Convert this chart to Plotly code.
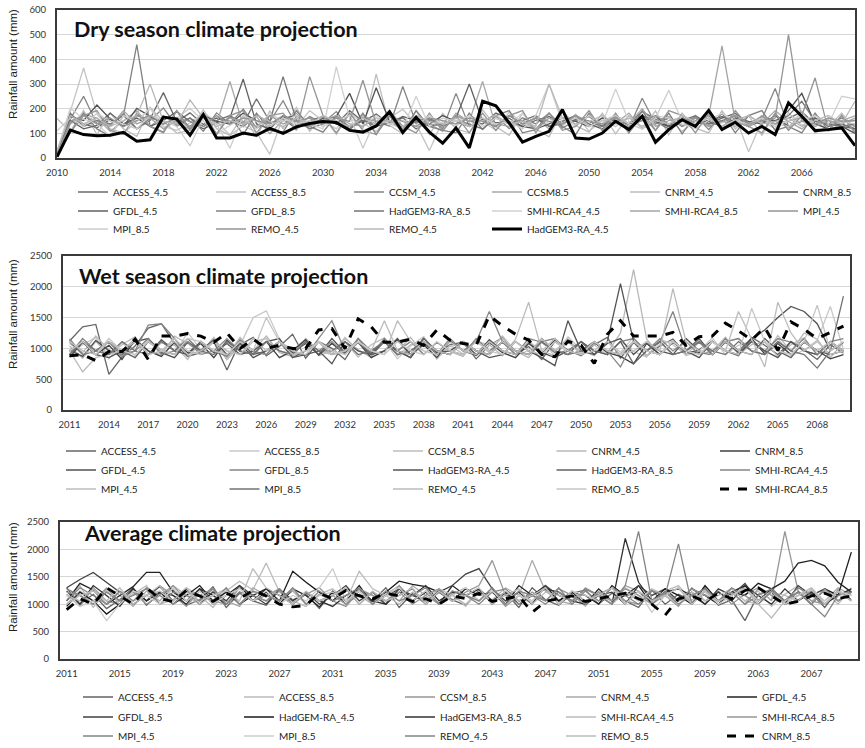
import plotly.graph_objects as go

W, H = 865, 748

# ---------------- DATA ----------------
dry_years = list(range(2010, 2071))
wet_years = list(range(2011, 2071))
avg_years = list(range(2011, 2071))

dry_tick_years = list(range(2010, 2071, 4))
wet_tick_years = list(range(2011, 2069, 3))
avg_tick_years = list(range(2011, 2068, 4))

# Dry season (mm), 2010-2070
dry_access_45 = [15, 175, 138, 122, 156, 128, 172, 158, 265, 147,
                 183, 136, 162, 151, 127, 176, 141, 158, 119, 152,
                 168, 137, 192, 148, 178, 139, 163, 118, 152, 131,
                 172, 149, 138, 182, 161, 127, 153, 168, 141, 158,
                 149, 129, 173, 138, 188, 157, 128, 152, 171, 139,
                 162, 181, 139, 168, 152, 161, 187, 138, 153, 128, 118]
dry_access_85 = [22, 188, 365, 178, 118, 102, 148, 203, 128, 112,
                 143, 181, 149, 92, 131, 104, 15, 168, 127, 192,
                 151, 118, 183, 142, 108, 163, 197, 138, 30, 152,
                 128, 172, 149, 112, 187, 141, 118, 163, 129, 178,
                 108, 153, 127, 171, 122, 138, 162, 108, 151, 131,
                 142, 168, 25, 149, 118, 183, 132, 158, 109, 142, 152]
dry_ccsm_45 = [25, 158, 250, 138, 132, 181, 118, 152, 203, 128,
               162, 108, 183, 139, 198, 121, 148, 232, 131, 168,
               142, 188, 117, 163, 148, 129, 290, 141, 158, 118,
               262, 128, 152, 171, 119, 163, 138, 182, 121, 152,
               168, 129, 148, 122, 242, 138, 162, 128, 151, 172,
               118, 152, 141, 158, 282, 128, 148, 173, 139, 162, 128]
dry_ccsm_85 = [12, 142, 178, 162, 108, 151, 192, 128, 171, 139,
               118, 162, 138, 310, 132, 168, 98, 152, 181, 128,
               162, 141, 118, 172, 148, 183, 128, 162, 139, 108,
               182, 148, 310, 128, 171, 138, 163, 118, 152, 171,
               128, 162, 141, 182, 118, 152, 168, 132, 161, 138,
               151, 128, 172, 138, 192, 148, 118, 162, 138, 152, 171]
dry_cnrm_45 = [160, 108, 192, 95, 182, 118, 88, 205, 148, 101,
               112, 195, 119, 92, 172, 85, 191, 118, 205, 108,
               171, 96, 182, 118, 340, 132, 98, 192, 95, 181,
               118, 102, 195, 128, 92, 182, 118, 86, 192, 131,
               105, 182, 98, 172, 118, 191, 94, 182, 121, 102,
               192, 118, 172, 92, 182, 118, 191, 102, 128, 182, 118]
dry_cnrm_85 = [20, 168, 152, 215, 158, 128, 201, 168, 138, 162,
               128, 172, 148, 138, 182, 151, 128, 162, 171, 138,
               152, 168, 262, 138, 285, 148, 128, 162, 138, 172,
               148, 128, 158, 142, 148, 128, 118, 138, 162, 148,
               128, 162, 151, 138, 172, 148, 128, 158, 138, 152,
               168, 148, 128, 162, 148, 192, 262, 138, 118, 128, 100]
dry_gfdl_45 = [10, 152, 118, 132, 182, 138, 162, 128, 152, 188,
               148, 118, 142, 162, 320, 138, 118, 172, 148, 128,
               162, 138, 118, 152, 128, 142, 168, 152, 128, 138,
               162, 300, 148, 128, 172, 138, 162, 128, 148, 172,
               138, 118, 162, 138, 152, 168, 128, 162, 138, 148,
               128, 162, 148, 138, 172, 128, 152, 162, 128, 138, 118]
dry_gfdl_85 = [15, 102, 182, 118, 88, 172, 460, 128, 105, 192,
               118, 182, 98, 172, 95, 182, 112, 105, 192, 128,
               105, 172, 112, 182, 95, 172, 105, 192, 128, 112,
               102, 182, 115, 172, 192, 102, 115, 182, 128, 95,
               182, 112, 172, 102, 192, 112, 182, 98, 172, 115,
               182, 102, 172, 192, 112, 128, 102, 182, 112, 172, 105]
dry_hadgem_85 = [20, 182, 128, 152, 138, 172, 118, 162, 148, 138,
                 162, 128, 152, 172, 138, 240, 148, 330, 152, 118,
                 138, 162, 128, 152, 138, 172, 118, 148, 162, 128,
                 152, 138, 118, 162, 138, 152, 172, 128, 138, 162,
                 148, 128, 172, 138, 162, 148, 118, 152, 162, 138,
                 152, 172, 128, 152, 138, 172, 230, 148, 138, 128, 138]
dry_smhi_45 = [25, 202, 158, 138, 88, 172, 148, 202, 118, 162,
               202, 148, 98, 132, 162, 118, 182, 148, 172, 138,
               118, 370, 162, 128, 172, 138, 118, 250, 128, 162,
               148, 172, 128, 162, 138, 182, 118, 148, 162, 128,
               172, 138, 280, 148, 128, 172, 162, 138, 118, 152,
               182, 148, 128, 162, 138, 128, 152, 172, 138, 250, 240]
dry_smhi_85 = [10, 138, 172, 148, 128, 192, 138, 162, 118, 152,
               128, 172, 138, 162, 148, 128, 172, 138, 162, 128,
               152, 172, 138, 128, 162, 148, 118, 162, 138, 128,
               172, 148, 162, 138, 128, 152, 118, 162, 138, 172,
               128, 152, 162, 138, 200, 128, 152, 162, 138, 172,
               455, 148, 128, 172, 138, 152, 162, 128, 152, 138, 162]
dry_mpi_45 = [20, 105, 172, 192, 112, 95, 182, 128, 102, 192,
              112, 182, 95, 172, 192, 102, 172, 182, 112, 330,
              172, 102, 182, 112, 95, 192, 128, 102, 182, 112,
              172, 102, 182, 112, 172, 192, 102, 182, 112, 128,
              192, 112, 182, 102, 172, 112, 192, 172, 102, 182,
              112, 192, 128, 102, 182, 112, 172, 325, 112, 172, 102]
dry_mpi_85 = [110, 162, 128, 182, 148, 138, 118, 172, 152, 128,
              50, 162, 138, 40, 172, 148, 128, 162, 138, 152,
              128, 152, 172, 40, 162, 138, 152, 128, 172, 138,
              152, 128, 162, 138, 148, 118, 172, 300, 138, 162,
              128, 152, 172, 138, 118, 162, 275, 148, 138, 162,
              128, 152, 138, 162, 128, 152, 172, 138, 162, 148, 138]
dry_remo_45 = [15, 148, 172, 138, 162, 128, 152, 172, 138, 162,
               148, 128, 172, 138, 162, 152, 138, 172, 148, 162,
               138, 162, 148, 315, 138, 172, 148, 128, 162, 152,
               138, 162, 148, 128, 172, 138, 162, 148, 138, 172,
               148, 138, 162, 128, 152, 172, 138, 148, 162, 128,
               148, 172, 138, 152, 162, 500, 148, 138, 162, 148, 152]
dry_remo_45b = [30, 172, 138, 162, 128, 152, 172, 300, 148, 138,
                235, 162, 128, 152, 138, 172, 148, 128, 162, 138,
                172, 148, 128, 162, 138, 152, 128, 172, 148, 138,
                162, 128, 152, 172, 138, 148, 128, 300, 162, 138,
                148, 172, 138, 162, 128, 152, 138, 172, 148, 162,
                128, 152, 172, 138, 148, 162, 128, 152, 172, 138, 230]
dry_hadgem_45 = [5, 113, 95, 90, 92, 104, 68, 74, 166, 158,
                 92, 176, 81, 81, 101, 92, 120, 100, 126, 140,
                 148, 144, 112, 105, 130, 188, 103, 165, 105, 60,
                 122, 41, 230, 212, 142, 64, 88, 108, 196, 81,
                 77, 101, 149, 115, 169, 64, 115, 155, 128, 193,
                 115, 145, 101, 128, 95, 223, 169, 111, 115, 122, 50]

# Wet season (mm), 2011-2070
wet_access_45 = [1120, 1350, 1390, 580, 860, 1040, 1330, 1400, 1080, 870,
                 930, 1120, 820, 1060, 1180, 880, 1030, 1230, 840, 1110,
                 1000, 820, 1160, 930, 1120, 960, 850, 1180, 900, 1060,
                 1100, 830, 1050, 1170, 900, 1030, 820, 1110, 970, 880,
                 1060, 1180, 840, 1100, 880, 1040, 1150, 910, 980, 1120,
                 960, 880, 1180, 1050, 900, 1110, 980, 820, 1060, 920]
wet_access_85 = [900, 1060, 1180, 830, 1100, 880, 1150, 980, 900, 1260,
                 980, 1120, 820, 1050, 1500, 1610, 1150, 880, 960, 1100,
                 910, 1180, 960, 870, 1120, 830, 1040, 1190, 910, 1030,
                 1090, 880, 1050, 1160, 900, 960, 1130, 870, 1190, 970,
                 880, 1110, 940, 1180, 880, 1070, 1120, 880, 960, 1170,
                 900, 1050, 1120, 930, 1160, 880, 970, 1130, 1680, 980]
wet_ccsm_85 = [1040, 840, 1110, 900, 1060, 1190, 890, 1090, 1050, 820,
               1120, 960, 880, 1180, 940, 900, 1120, 970, 1150, 880,
               960, 1110, 860, 1060, 1170, 880, 1060, 1120, 830, 1050,
               910, 1110, 1060, 880, 1150, 1750, 960, 880, 1120, 940,
               1060, 890, 1120, 950, 860, 1150, 1060, 900, 1100, 960,
               1180, 900, 1060, 1100, 870, 1060, 1170, 890, 1110, 930]
wet_cnrm_45 = [1080, 930, 1200, 980, 860, 1140, 960, 900, 1200, 1080,
               930, 1180, 850, 1100, 960, 1200, 930, 870, 1160, 960,
               900, 1160, 980, 850, 1140, 950, 1180, 900, 1100, 950,
               870, 1130, 930, 1200, 960, 850, 1100, 960, 1160, 900,
               1100, 930, 1250, 2280, 1150, 900, 1100, 950, 1130, 900,
               1100, 1160, 950, 900, 1210, 950, 1250, 1150, 850, 1100]
wet_cnrm_85 = [860, 1100, 900, 1050, 820, 1150, 960, 870, 1100, 930,
               1080, 850, 1130, 950, 910, 1110, 850, 960, 1140, 890,
               1080, 910, 1100, 850, 960, 1140, 900, 1060, 850, 1120,
               960, 890, 1100, 930, 850, 1080, 910, 1140, 960, 900,
               1100, 930, 870, 750, 1080, 900, 1100, 950, 930, 900,
               1110, 930, 1160, 910, 1080, 900, 1100, 960, 830, 900]
wet_gfdl_45 = [970, 870, 1130, 960, 900, 1110, 1160, 930, 850, 1100,
               960, 1140, 900, 1080, 850, 960, 1110, 930, 1080, 900,
               1160, 930, 1100, 900, 960, 1160, 900, 1080, 930, 960,
               1100, 900, 1140, 960, 900, 1100, 930, 850, 960, 1110,
               900, 1080, 1160, 900, 1100, 960, 900, 1160, 960, 900,
               1100, 960, 1160, 1300, 1500, 1680, 1600, 1400, 960, 1100]
wet_gfdl_85 = [900, 1160, 960, 1100, 870, 960, 1380, 1400, 1160, 900,
               1100, 960, 870, 1140, 960, 900, 1110, 960, 880, 1160,
               1450, 960, 1100, 900, 1160, 960, 1110, 900, 1100, 960,
               900, 1160, 960, 1100, 900, 1160, 1100, 930, 960, 1110,
               960, 900, 1110, 1160, 960, 1100, 1600, 960, 1100, 900,
               1160, 960, 1110, 960, 1160, 1100, 960, 900, 1110, 1160]
wet_hadgem_45 = [960, 1110, 900, 850, 960, 1110, 900, 1140, 960, 900,
                 1110, 930, 1080, 900, 960, 1110, 1160, 850, 900, 960,
                 750, 1110, 960, 900, 1110, 960, 850, 1110, 960, 900,
                 1110, 960, 850, 900, 1110, 960, 850, 720, 1450, 960,
                 900, 1110, 2050, 1110, 960, 900, 1110, 960, 850, 1110,
                 960, 900, 1110, 960, 850, 1110, 960, 900, 1110, 960]
wet_hadgem_85 = [1110, 900, 960, 1110, 960, 850, 1110, 960, 900, 1110,
                 960, 1110, 650, 1110, 900, 960, 1110, 850, 960, 1110,
                 900, 960, 1110, 900, 1110, 960, 900, 1160, 960, 900,
                 1110, 960, 900, 1110, 960, 900, 1160, 960, 900, 1110,
                 960, 900, 1110, 750, 960, 1110, 900, 960, 1160, 900,
                 1110, 960, 900, 1160, 960, 850, 1110, 960, 900, 960]
wet_smhi_45 = [1160, 900, 960, 1110, 900, 960, 1160, 900, 960, 1110,
               900, 960, 1160, 960, 900, 1110, 960, 900, 1110, 960,
               1110, 900, 1160, 960, 1110, 900, 960, 1110, 900, 1160,
               960, 1110, 1600, 1110, 960, 900, 1110, 1160, 960, 900,
               1110, 960, 700, 1110, 960, 1160, 960, 1110, 900, 960,
               1110, 1160, 960, 900, 1110, 960, 1160, 900, 1110, 960]
wet_mpi_45 = [960, 620, 850, 900, 960, 1110, 900, 960, 1160, 960,
              900, 1110, 960, 900, 1110, 1160, 960, 900, 960, 1110,
              900, 960, 1110, 960, 900, 1450, 1110, 960, 900, 1110,
              960, 900, 1110, 960, 900, 1110, 960, 1160, 900, 960,
              1110, 960, 900, 1110, 960, 900, 1110, 960, 900, 1110,
              960, 1600, 1160, 700, 1750, 1250, 960, 1110, 900, 960]
wet_mpi_85 = [900, 1110, 960, 900, 1110, 960, 900, 1110, 960, 1160,
              960, 900, 1110, 960, 900, 1110, 960, 900, 1110, 960,
              960, 1110, 900, 960, 1110, 900, 960, 1110, 960, 900,
              1110, 960, 900, 1110, 960, 900, 1110, 960, 900, 960,
              1110, 960, 900, 1110, 960, 1110, 900, 960, 1110, 960,
              900, 1110, 960, 900, 1110, 960, 900, 680, 960, 1850]
wet_remo_45 = [1110, 960, 900, 1110, 960, 1160, 900, 960, 1110, 900,
               960, 1110, 960, 900, 1160, 960, 1110, 900, 960, 1110,
               900, 960, 1110, 960, 1450, 960, 900, 1110, 960, 900,
               1110, 960, 900, 1110, 960, 900, 1160, 960, 1110, 900,
               960, 1110, 900, 960, 1110, 960, 1970, 1110, 960, 900,
               1110, 960, 900, 1110, 960, 900, 1110, 960, 1110, 960]
wet_remo_85 = [960, 1110, 900, 1160, 960, 900, 1110, 960, 900, 1160,
               1110, 960, 900, 1110, 960, 1500, 1110, 960, 900, 1110,
               960, 900, 1110, 960, 900, 1110, 960, 900, 1110, 960,
               900, 1110, 960, 900, 1110, 960, 900, 1110, 960, 900,
               1110, 960, 900, 1110, 960, 900, 1110, 960, 900, 1110,
               960, 900, 1650, 1110, 960, 900, 1110, 1700, 960, 1110]
wet_smhi_85 = [880, 900, 800, 950, 950, 1150, 820, 1200, 1200, 1240,
               1200, 1100, 1250, 1000, 1150, 1000, 1050, 1000, 1000, 1300,
               1320, 1000, 1480, 1350, 1100, 1100, 1150, 1050, 1300, 1135,
               1080, 1050, 1530, 1365, 1230, 1135, 900, 865, 1115, 1050,
               755, 1230, 1450, 1200, 1200, 1200, 1260, 1050, 1190, 1200,
               1410, 1285, 1135, 1340, 970, 1430, 1310, 1160, 1260, 1360]

# Average (mm), 2011-2070
avg_access_45 = [1300, 1000, 1180, 920, 1080, 1300, 980, 1200, 1260, 980,
                 1080, 1320, 940, 1200, 1060, 980, 1260, 1080, 1180, 920,
                 1240, 1000, 1180, 1060, 1300, 940, 1200, 1000, 1260, 1080,
                 980, 1260, 1060, 1200, 940, 1300, 1080, 980, 1200, 1260,
                 1000, 1200, 1060, 940, 1260, 1000, 1180, 1060, 1300, 980,
                 1080, 700, 1180, 1260, 1000, 1080, 1200, 940, 1260, 1080]
avg_access_85 = [1060, 1340, 940, 1240, 1000, 1180, 1340, 1000, 1080, 1300,
                 1160, 940, 1240, 1420, 1260, 1750, 1220, 1060, 960, 1180,
                 1280, 1060, 1240, 1000, 1180, 1340, 1060, 1240, 1000, 1180,
                 960, 1240, 1080, 1300, 1160, 1000, 1340, 1060, 1180, 960,
                 1240, 1060, 1300, 1160, 1000, 1240, 1340, 1060, 1180, 1000,
                 1280, 1060, 1240, 960, 1180, 1340, 1060, 1240, 1000, 1300]
avg_ccsm_85 = [1180, 960, 1300, 1060, 1000, 1240, 1060, 1340, 1160, 960,
               1240, 1060, 1000, 1300, 1160, 1060, 1240, 1000, 1180, 1300,
               1060, 960, 1240, 1160, 1000, 1340, 1060, 1240, 1000, 1180,
               1300, 1060, 1240, 960, 1160, 1060, 1300, 1000, 1240, 1060,
               1180, 1300, 1060, 1000, 1240, 1160, 960, 1300, 1060, 1240,
               1000, 1180, 1300, 1060, 2330, 1240, 1060, 1000, 1180, 1240]
avg_cnrm_45 = [1000, 1240, 1060, 1300, 1160, 960, 1240, 1060, 1340, 1160,
               1000, 1240, 1060, 960, 1300, 1160, 1060, 1240, 1000, 1180,
               1060, 1300, 1160, 1000, 1240, 1060, 1340, 1160, 1000, 1240,
               1160, 1060, 1300, 1000, 1160, 1800, 1240, 1060, 1000, 1300,
               1160, 1060, 1340, 1240, 1000, 1160, 1300, 1060, 1240, 1000,
               1160, 1300, 1060, 1240, 1000, 1160, 1240, 1060, 1300, 1160]
avg_gfdl_45 = [1060, 1380, 1260, 1000, 1160, 1320, 1580, 1580, 1220, 1060,
               1280, 1000, 1160, 1340, 1060, 1220, 1000, 1280, 1160, 950,
               1220, 1060, 1340, 1000, 1160, 1280, 1060, 1220, 1000, 1340,
               1160, 1280, 1060, 1220, 1000, 1160, 1340, 1060, 1220, 1000,
               1280, 1060, 1160, 1340, 1000, 1220, 1060, 1280, 1160, 1000,
               1220, 1340, 1060, 1280, 1420, 1750, 1800, 1700, 1400, 1220]
avg_gfdl_85 = [1300, 1450, 1580, 1400, 1220, 1000, 1160, 1320, 1060, 1280,
               1000, 1220, 1060, 1340, 1160, 1000, 1280, 1060, 1220, 1000,
               1160, 1340, 1060, 1220, 1000, 1280, 1160, 1060, 1220, 1340,
               1550, 1650, 1280, 1060, 1220, 1000, 1340, 1160, 1060, 1280,
               1160, 1220, 1000, 1340, 1160, 1280, 1060, 1220, 1000, 1280,
               1160, 1380, 1060, 1220, 1000, 1340, 1160, 1280, 1060, 1220]
avg_hadgem_45 = [960, 1220, 1060, 820, 1000, 1280, 1060, 1220, 1000, 1160,
                 1340, 1060, 1220, 1000, 1160, 1280, 1060, 1600, 1400, 1220,
                 1060, 1280, 1160, 1060, 1220, 1420, 1360, 1320, 1220, 1060,
                 1280, 1160, 1220, 1000, 1340, 1160, 1280, 1060, 1220, 1160,
                 1000, 1340, 1160, 1220, 1060, 1280, 1160, 1000, 1340, 1060,
                 1220, 1160, 1380, 1280, 1060, 1220, 1000, 1280, 1160, 1950]
avg_hadgem3_85 = [1240, 1000, 1340, 1160, 960, 1280, 1060, 1220, 1160, 1000,
                  1280, 1160, 1000, 1220, 1060, 1280, 1160, 1000, 1220, 1060,
                  960, 1160, 1280, 1060, 1000, 1220, 1160, 1340, 1060, 1220,
                  1160, 1280, 1000, 1220, 1060, 1160, 1280, 1220, 1060, 1000,
                  1160, 1000, 2200, 1400, 1060, 1220, 1280, 1160, 1000, 1220,
                  1060, 1340, 1160, 1000, 1280, 1060, 1220, 1000, 1160, 1280]
avg_smhi_45 = [1160, 1060, 1280, 1000, 1220, 1060, 1160, 1340, 1000, 1220,
               1060, 1160, 1280, 1000, 1220, 1160, 1060, 1280, 1000, 1160,
               1220, 1060, 1600, 1280, 1160, 1000, 1220, 1060, 1280, 1160,
               1000, 1220, 1060, 1160, 1280, 1000, 1220, 1160, 1060, 1280,
               1160, 1000, 1220, 1060, 1280, 1160, 1000, 1220, 1060, 1160,
               1280, 1060, 1000, 1220, 1160, 1060, 1280, 1000, 1220, 1160]
avg_smhi_85 = [1220, 1160, 1000, 1280, 1060, 1220, 1000, 1160, 1340, 1060,
               1160, 1280, 1000, 1220, 1060, 1160, 1280, 1000, 1220, 1060,
               1160, 1000, 1280, 1160, 1060, 1220, 1000, 1160, 1280, 1060,
               1220, 1340, 1800, 1160, 1000, 1220, 1060, 1280, 1160, 1000,
               1220, 1060, 1280, 1160, 1000, 1220, 1060, 1280, 1160, 1060,
               1220, 1000, 1280, 1160, 1060, 1220, 1000, 1280, 1060, 1220]
avg_mpi_45 = [1280, 1160, 1000, 1220, 1060, 1160, 1280, 1000, 1220, 1160,
              1060, 1280, 1000, 1220, 1160, 1060, 1280, 1000, 1220, 1060,
              1160, 1280, 1000, 1220, 1060, 1160, 1280, 1000, 1220, 1060,
              1160, 1000, 1220, 1280, 1060, 1160, 1000, 1220, 1060, 1280,
              1160, 1000, 1340, 2330, 1060, 1220, 1000, 1160, 1280, 1060,
              1220, 1000, 1160, 1280, 1060, 1220, 1000, 770, 1160, 1220]
avg_mpi_85 = [1160, 960, 1060, 700, 1000, 1240, 1160, 1000, 1300, 1060,
              1240, 1000, 1160, 1280, 1060, 1240, 1000, 1160, 1060, 1300,
              1650, 1060, 1240, 1000, 1160, 1300, 1060, 1240, 1000, 1160,
              1300, 1060, 1240, 1000, 1160, 1060, 1300, 1000, 1240, 1160,
              1060, 1300, 1000, 1240, 850, 1160, 1300, 1060, 1240, 1000,
              1160, 1300, 1060, 1240, 1000, 1160, 1300, 1060, 1240, 1160]
avg_remo_45 = [1060, 1300, 1160, 1000, 1240, 1060, 1300, 1160, 1000, 1240,
               1160, 1060, 1300, 1000, 1240, 1160, 1060, 1300, 1000, 1240,
               1060, 1160, 1300, 1000, 1240, 1060, 1160, 1300, 1000, 1240,
               1160, 1060, 1300, 1000, 1240, 1160, 1060, 1300, 1000, 1240,
               1060, 1300, 1160, 1000, 1240, 1160, 2100, 1000, 1240, 1060,
               1300, 1160, 1000, 1240, 1060, 1300, 1160, 1000, 1240, 1060]
avg_remo_85 = [1000, 1160, 1240, 1060, 1300, 1000, 1160, 1240, 1060, 1300,
               1000, 1160, 1240, 1060, 1650, 1300, 1160, 1000, 1240, 1060,
               1160, 1300, 1000, 1240, 1060, 1160, 1300, 1000, 1240, 1060,
               1160, 1300, 1000, 1240, 1060, 1160, 1300, 1000, 1240, 1060,
               1160, 1300, 1000, 1240, 1060, 1160, 1300, 1000, 1240, 1060,
               1160, 1300, 1000, 750, 1060, 1160, 1300, 1000, 1240, 1060]
avg_cnrm_85 = [900, 1100, 1000, 1300, 1150, 1000, 1300, 1100, 1050, 1250,
               1150, 1050, 1200, 1100, 1250, 1150, 1000, 950, 980, 1200,
               1100, 1250, 1150, 1100, 1200, 1150, 1050, 1100, 1000, 1150,
               1100, 1200, 1050, 1100, 1150, 850, 1050, 1100, 1150, 1050,
               1100, 1150, 1200, 1100, 1000, 800, 1100, 1150, 1050, 1200,
               1100, 1250, 1300, 1150, 1000, 1050, 1150, 1200, 1100, 1150]

# ---------------- SERIES SPECS ----------------
dry_series = [
    ("ACCESS_4.5", dry_access_45, "#6a6a6a"), ("ACCESS_8.5", dry_access_85, "#c4c4c4"),
    ("CCSM_4.5", dry_ccsm_45, "#858585"), ("CCSM8.5", dry_ccsm_85, "#a8a8a8"),
    ("CNRM_4.5", dry_cnrm_45, "#bdbdbd"), ("CNRM_8.5", dry_cnrm_85, "#505050"),
    ("GFDL_4.5", dry_gfdl_45, "#606060"), ("GFDL_8.5", dry_gfdl_85, "#808080"),
    ("HadGEM3-RA_8.5", dry_hadgem_85, "#747474"), ("SMHI-RCA4_4.5", dry_smhi_45, "#d0d0d0"),
    ("SMHI-RCA4_8.5", dry_smhi_85, "#a4a4a4"), ("MPI_4.5", dry_mpi_45, "#959595"),
    ("MPI_8.5", dry_mpi_85, "#cccccc"), ("REMO_4.5", dry_remo_45, "#959595"),
    ("REMO_4.5", dry_remo_45b, "#b8b8b8"), ("HadGEM3-RA_4.5", dry_hadgem_45, "#000000"),
]
wet_series = [
    ("ACCESS_4.5", wet_access_45, "#666666"), ("ACCESS_8.5", wet_access_85, "#c8c8c8"),
    ("CCSM_8.5", wet_ccsm_85, "#bcbcbc"), ("CNRM_4.5", wet_cnrm_45, "#b8b8b8"),
    ("CNRM_8.5", wet_cnrm_85, "#404040"), ("GFDL_4.5", wet_gfdl_45, "#505050"),
    ("GFDL_8.5", wet_gfdl_85, "#848484"), ("HadGEM3-RA_4.5", wet_hadgem_45, "#545454"),
    ("HadGEM3-RA_8.5", wet_hadgem_85, "#626262"), ("SMHI-RCA4_4.5", wet_smhi_45, "#868686"),
    ("MPI_4.5", wet_mpi_45, "#bdbdbd"), ("MPI_8.5", wet_mpi_85, "#727272"),
    ("REMO_4.5", wet_remo_45, "#bbbbbb"), ("REMO_8.5", wet_remo_85, "#c6c6c6"),
    ("SMHI-RCA4_8.5", wet_smhi_85, "#000000"),
]
avg_series = [
    ("ACCESS_4.5", avg_access_45, "#636363"), ("ACCESS_8.5", avg_access_85, "#bbbbbb"),
    ("CCSM_8.5", avg_ccsm_85, "#969696"), ("CNRM_4.5", avg_cnrm_45, "#aaaaaa"),
    ("GFDL_4.5", avg_gfdl_45, "#222222"), ("GFDL_8.5", avg_gfdl_85, "#404040"),
    ("HadGEM-RA_4.5", avg_hadgem_45, "#1a1a1a"), ("HadGEM3-RA_8.5", avg_hadgem3_85, "#303030"),
    ("SMHI-RCA4_4.5", avg_smhi_45, "#bbbbbb"), ("SMHI-RCA4_8.5", avg_smhi_85, "#969696"),
    ("MPI_4.5", avg_mpi_45, "#858585"), ("MPI_8.5", avg_mpi_85, "#cccccc"),
    ("REMO_4.5", avg_remo_45, "#858585"), ("REMO_8.5", avg_remo_85, "#bbbbbb"),
    ("CNRM_8.5", avg_cnrm_85, "#000000"),
]

# ---------------- LAYOUT GEOMETRY (pixels) ----------------
def fx(p):
    return p / W

def fy(p):
    return 1 - p / H

panels = [
    dict(series=dry_series, years=dry_years, box=(57, 855, 10, 158), yrange=[0, 600], dtick=100,
         xrange=[2010, 2070], ticks=dry_tick_years, rows=[6, 6, 4], row_y=[192, 211, 229],
         leg_x=73, entry=93, title="Dry season climate projection", title_xy=(72, 29),
         ylab_y=64, special=dict(width=3, dash="solid")),
    dict(series=wet_series, years=wet_years, box=(63, 850, 256, 410), yrange=[0, 2500], dtick=500,
         xrange=[2010.5, 2070.5], ticks=wet_tick_years, rows=[5, 5, 5], row_y=[451, 470, 489],
         leg_x=61, entry=118.5, title="Wet season climate projection", title_xy=(77, 276),
         ylab_y=314, special=dict(width=3, dash="dash")),
    dict(series=avg_series, years=avg_years, box=(60, 858, 522, 659), yrange=[0, 2500], dtick=500,
         xrange=[2010.5, 2070.5], ticks=avg_tick_years, rows=[5, 5, 5], row_y=[697, 717, 736],
         leg_x=78, entry=116, title="Average climate projection", title_xy=(82, 533),
         ylab_y=577, special=dict(width=2.8, dash="dash")),
]

TICKFONT = dict(family="Lato, 'Open Sans', sans-serif", size=9.5, color="#333333")
LEGFONT = dict(family="Lato, 'Open Sans', sans-serif", size=10, color="#222222")

fig = go.Figure()
layout = dict(width=W, height=H, margin=dict(l=0, r=0, t=0, b=0, autoexpand=False),
              paper_bgcolor="white", plot_bgcolor="white", showlegend=True,
              annotations=[])

legend_idx = 0
for pi, p in enumerate(panels):
    sfx = "" if pi == 0 else str(pi + 1)
    xname, yname = "x" + sfx, "y" + sfx
    x0, x1, y0, y1 = p["box"]
    layout["xaxis" + sfx] = dict(domain=[fx(x0), fx(x1)], range=p["xrange"], tickvals=p["ticks"],
                                 anchor=yname, showgrid=False, zeroline=False, showline=True,
                                 mirror=True, linecolor="#3a3a3a", linewidth=2, ticks="",
                                 tickfont=TICKFONT, ticklabelstandoff=5, fixedrange=True)
    layout["yaxis" + sfx] = dict(domain=[fy(y1), fy(y0)], range=p["yrange"], dtick=p["dtick"],
                                 anchor=xname, showgrid=True, gridcolor="#d6d6d6", gridwidth=1,
                                 zeroline=False, showline=True, mirror=True, linecolor="#3a3a3a",
                                 linewidth=2, ticks="", tickfont=TICKFONT, ticklabelstandoff=7,
                                 fixedrange=True)
    leg_names = []
    for r, (n, ry) in enumerate(zip(p["rows"], p["row_y"])):
        legend_idx += 1
        lname = "legend" if legend_idx == 1 else "legend" + str(legend_idx)
        layout[lname] = dict(orientation="h", x=fx(p["leg_x"]), xanchor="left", y=fy(ry),
                             yanchor="middle", entrywidth=p["entry"], entrywidthmode="pixels",
                             font=LEGFONT, bgcolor="rgba(0,0,0,0)", borderwidth=0,
                             traceorder="normal", itemclick=False, itemdoubleclick=False)
        leg_names += [lname] * n
    last = len(p["series"]) - 1
    for si, (name, vals, color) in enumerate(p["series"]):
        if si == last:
            line = dict(color=color, width=p["special"]["width"], dash=p["special"]["dash"])
        else:
            line = dict(color=color, width=1.3)
        fig.add_trace(go.Scatter(x=p["years"], y=vals, mode="lines", name=name, line=line,
                                 xaxis=xname, yaxis=yname, legend=leg_names[si],
                                 hoverinfo="skip"))
    tx, ty = p["title_xy"]
    layout["annotations"].append(dict(text=p["title"], x=fx(tx), y=fy(ty), xref="paper", yref="paper",
                                      xanchor="left", yanchor="middle", showarrow=False,
                                      font=dict(family="Lato, 'Open Sans', sans-serif", size=21.5,
                                                color="#111111", weight="bold")))
    layout["annotations"].append(dict(text="Rainfall amount (mm)", x=fx(13), y=fy(p["ylab_y"]),
                                      xref="paper", yref="paper", xanchor="center", yanchor="middle",
                                      textangle=-90, showarrow=False,
                                      font=dict(family="'Liberation Sans', Arial, sans-serif",
                                                size=11.5, color="#222222")))

fig.update_layout(**layout)
fig.write_html("out.html", config={"displayModeBar": False},
               post_script="document.body.style.margin='0';document.body.style.overflow='hidden';")
